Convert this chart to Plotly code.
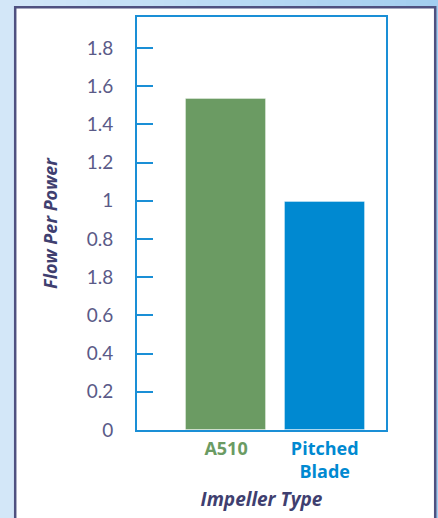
import plotly.graph_objects as go

# ---- data ----
categories = ["A510", "Pitched Blade"]
values = [1.733, 1.196]          # bar heights in axis-position units
tick_positions = [0, 0.2, 0.4, 0.6, 0.8, 1.0, 1.2, 1.4, 1.6, 1.8, 2.0]
tick_labels = ["0", "0.2", "0.4", "0.6", "1.8", "0.8", "1", "1.2", "1.4", "1.6", "1.8"]
x_labels = ["<b>A510</b>", "<b>Pitched<br>Blade</b>"]
bar_colors = ["#6b9b63", "#0089d1"]
label_colors = ["#6b9b63", "#0089d1"]

W, H = 438, 518
L, R, T, B = 137, 386, 17, 430   # plot area in pixels
pw, ph = R - L, B - T

def px(x):
    return (x - L) / pw

def py(y):
    return (B - y) / ph

fig = go.Figure()
fig.add_trace(go.Bar(
    x=categories, y=values, width=0.81,
    marker=dict(color=bar_colors, line=dict(color="rgba(255,255,255,0.35)", width=1)),
    hoverinfo="skip",
))

shapes = []
# gradient background (light blue -> darker blue to the right)
n = 40
c0 = (211, 231, 248)
c1 = (163, 206, 240)
for i in range(n):
    t = i / (n - 1)
    col = "rgb(%d,%d,%d)" % tuple(round(c0[k] + (c1[k] - c0[k]) * t) for k in range(3))
    x0 = i * W / n
    x1 = (i + 1) * W / n + 0.5
    shapes.append(dict(type="rect", xref="paper", yref="paper",
                       x0=px(x0), x1=px(x1), y0=py(H + 5), y1=py(-5),
                       fillcolor=col, line=dict(width=0), layer="below"))
# white panel with dark border
shapes.append(dict(type="rect", xref="paper", yref="paper",
                   x0=px(15.2), x1=px(435.2), y0=py(540), y1=py(7.2),
                   fillcolor="white", line=dict(color="#4f5180", width=2.5), layer="below"))

ticktext_x = ['<span style="color:%s">%s</span>' % (c, t) for c, t in zip(label_colors, x_labels)]

fig.update_layout(
    width=W, height=H,
    margin=dict(l=L, r=W - R, t=T, b=H - B, pad=0),
    paper_bgcolor="#c8e0f5",
    plot_bgcolor="white",
    showlegend=False,
    shapes=shapes,
    bargap=0,
    xaxis=dict(
        type="category",
        range=[-0.902, 1.621],
        tickvals=categories, ticktext=ticktext_x,
        showline=True, mirror=True, linecolor="#1a8fd6", linewidth=2,
        ticks="", showgrid=False, zeroline=False,
        tickfont=dict(family="Open Sans", size=18),
        ticklabelstandoff=1,
        automargin=False,
        title=dict(text="<b><i>Impeller Type</i></b>",
                   font=dict(family="Open Sans", size=19, color="#3f3f70"),
                   standoff=11),
    ),
    yaxis=dict(
        range=[0, 2.162],
        tickvals=tick_positions, ticktext=tick_labels,
        showline=True, mirror=True, linecolor="#1a8fd6", linewidth=2,
        ticks="inside", ticklen=16, tickwidth=2, tickcolor="#1a8fd6",
        showgrid=False, zeroline=False,
        tickfont=dict(family="Lato", size=19, color="#5a5a88"),
        ticklabelstandoff=18,
        automargin=False,
        title=dict(text="<b><i>Flow Per Power</i></b>",
                   font=dict(family="Open Sans", size=18, color="#3f3f70"),
                   standoff=24),
    ),
)

fig.write_html("out.html",
               config={"displayModeBar": False},
               post_script="document.body.style.margin='0';document.body.style.overflow='hidden';")
